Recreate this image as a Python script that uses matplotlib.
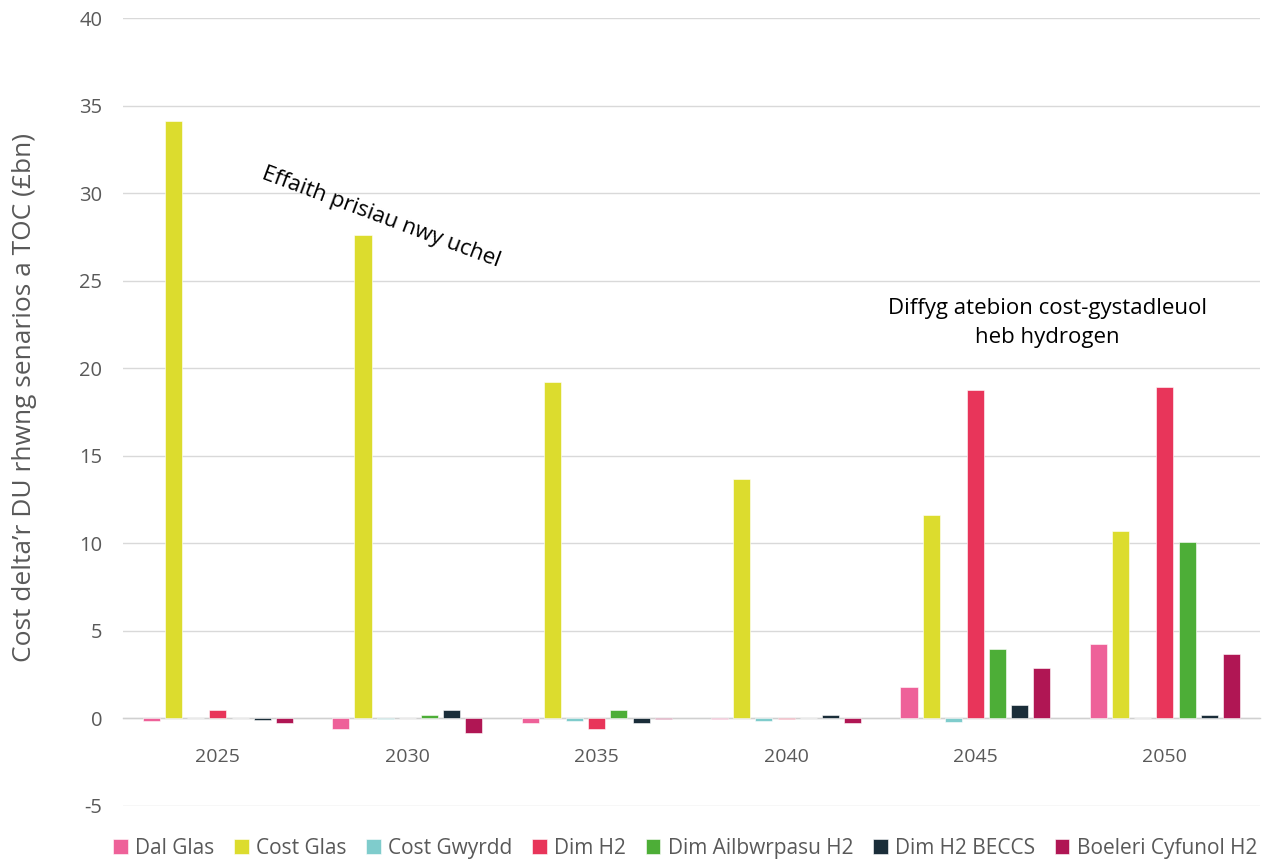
import matplotlib
matplotlib.use("Agg")
import matplotlib.pyplot as plt
import numpy as np

plt.rcParams['font.family'] = ['Open Sans', 'DejaVu Sans']

years = ["2025", "2030", "2035", "2040", "2045", "2050"]
series_names = ["Dal Glas", "Cost Glas", "Cost Gwyrdd", "Dim H2",
                "Dim Ailbwrpasu H2", "Dim H2 BECCS", "Boeleri Cyfunol H2"]
series_colors = ["#EE6199", "#DCDC2E", "#7FCCCC", "#E8355A",
                 "#4DAE37", "#1A2D39", "#B01654"]

dal_glas = [-0.15, -0.6, -0.25, -0.02, 1.77, 4.23]
cost_glas = [34.1, 27.6, 19.2, 13.7, 11.6, 10.7]
cost_gwyrdd = [0.0, -0.02, -0.15, -0.15, -0.2, 0.0]
dim_h2 = [0.5, 0.0, -0.6, -0.02, 18.75, 18.9]
dim_ailbwrpasu = [0.02, 0.2, 0.5, 0.02, 3.95, 10.1]
dim_h2_beccs = [-0.1, 0.5, -0.25, 0.2, 0.78, 0.2]
boeleri_cyfunol = [-0.25, -0.85, -0.05, -0.25, 2.86, 3.68]

y_ticks = [-5, 0, 5, 10, 15, 20, 25, 30, 35, 40]

series = [dal_glas, cost_glas, cost_gwyrdd, dim_h2,
          dim_ailbwrpasu, dim_h2_beccs, boeleri_cyfunol]

fig = plt.figure(figsize=(12.64, 8.61), dpi=100)
ax = fig.add_axes([0.0975, 0.064, 0.899, 0.915])

x = np.arange(len(years))
step = 0.117
width = 0.09
n = len(series)
for i, (name, vals, col) in enumerate(zip(series_names, series, series_colors)):
    offs = (i - (n - 1) / 2) * step
    ax.bar(x + offs, vals, width=width, color=col, label=name, zorder=3,
           edgecolor='white', linewidth=0.4)

ax.set_ylim(-5, 40)
ax.set_xlim(-0.5, len(years) - 0.5)
ax.set_yticks(y_ticks)
ax.set_yticklabels([str(v) for v in y_ticks])
ax.yaxis.grid(True, color="#D9D9D9", linewidth=1, zorder=0)
ax.set_axisbelow(True)
for s in ['top', 'right', 'left']:
    ax.spines[s].set_visible(False)
ax.spines['bottom'].set_position(('data', 0))
ax.spines['bottom'].set_color("#D0D0D0")
ax.spines['bottom'].set_linewidth(1)
ax.set_xticks(x)
ax.set_xticklabels(years)
ax.tick_params(axis='x', length=0, pad=21, labelsize=14, labelcolor="#595959")
ax.tick_params(axis='y', length=0, pad=15, labelsize=14.5, labelcolor="#595959")

ax.set_ylabel("Cost delta\u2019r DU rhwng senarios a TOC (£bn)", fontsize=19,
              color="#595959")
ax.yaxis.set_label_coords(-0.076, 0.518)

ax.text(0.86, 28.6, "Effaith prisiau nwy uchel", rotation=-20.5, fontsize=16,
        ha='center', va='center', color="#000000", rotation_mode='anchor')
ax.text(4.38, 22.6, "Diffyg atebion cost-gystadleuol\nheb hydrogen", fontsize=16,
        ha='center', va='center', color="#000000", linespacing=1.5)

leg = fig.legend(loc='lower center', bbox_to_anchor=(0.542, -0.019), ncol=7,
                 frameon=False, fontsize=15, handlelength=0.7,
                 handleheight=0.7, handletextpad=0.35, columnspacing=0.95)
for t in leg.get_texts():
    t.set_color("#595959")

fig.savefig("out.png", dpi=100)
